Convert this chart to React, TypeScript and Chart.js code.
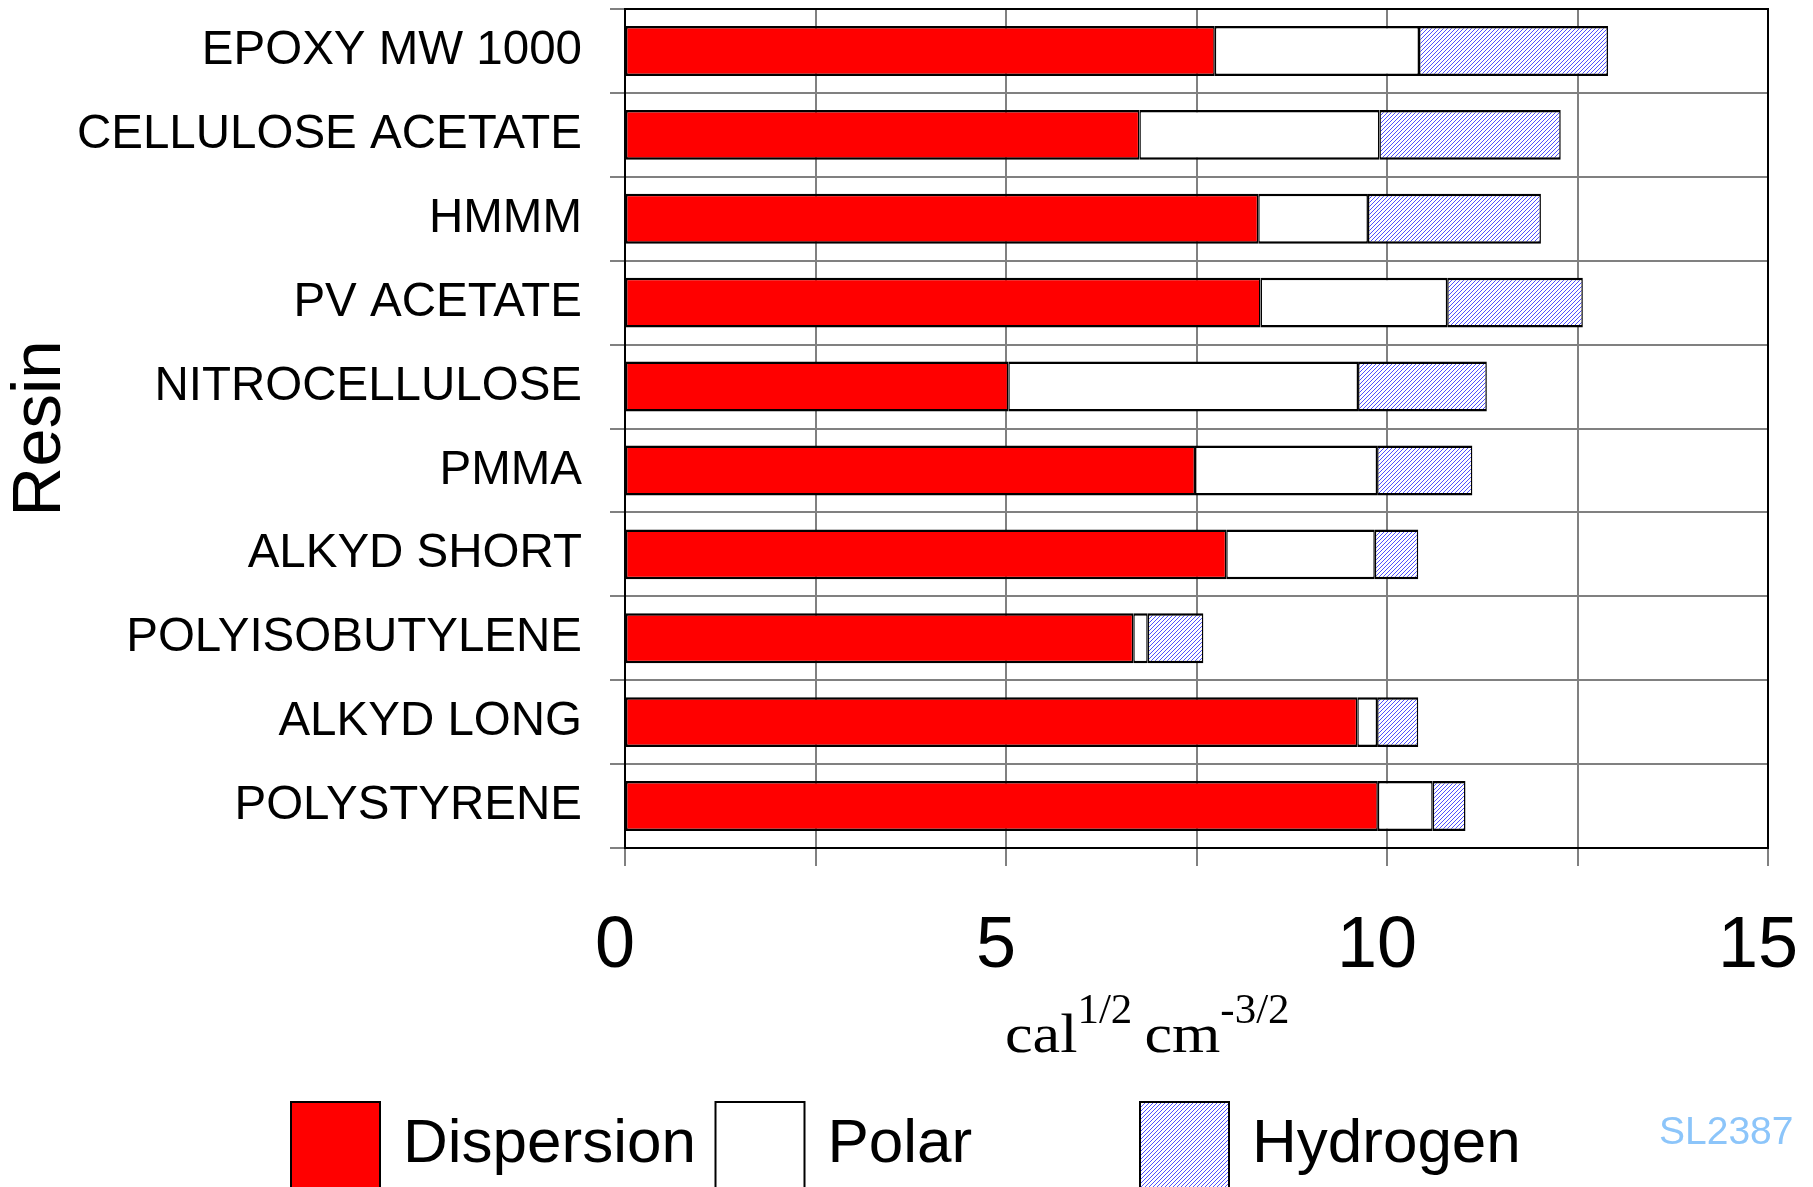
import React, { useEffect, useRef } from 'react';
import { Chart, registerables } from 'chart.js';

Chart.register(...registerables);

const resins = [
  'EPOXY MW 1000',
  'CELLULOSE ACETATE',
  'HMMM',
  'PV ACETATE',
  'NITROCELLULOSE',
  'PMMA',
  'ALKYD SHORT',
  'POLYISOBUTYLENE',
  'ALKYD LONG',
  'POLYSTYRENE',
];
const dispersion = [7.74, 6.75, 8.31, 8.34, 5.03, 7.48, 7.89, 6.67, 9.61, 9.88];
const polar = [2.68, 3.15, 1.44, 2.45, 4.59, 2.39, 1.95, 0.19, 0.26, 0.72];
const hydrogen = [2.48, 2.38, 2.27, 1.78, 1.69, 1.25, 0.57, 0.73, 0.54, 0.43];
const seriesNames = ['Dispersion', 'Polar', 'Hydrogen'];
const xTickLabels = [0, 5, 10, 15];
const yAxisTitle = 'Resin';
const unitParts: [string, boolean][] = [
  ['cal', false],
  ['1/2', true],
  [' ', false],
  ['cm', false],
  ['-3/2', true],
];
const watermark = 'SL2387';

const SANS = "'Liberation Sans', Arial, sans-serif";
const SERIF = "'Liberation Serif', 'Times New Roman', serif";
const W = 1813;
const H = 1187;

export default function App() {
  const ref = useRef<HTMLCanvasElement | null>(null);

  useEffect(() => {
    const canvas = ref.current;
    if (!canvas) return;
    const ctx = canvas.getContext('2d')!;

    const pc = document.createElement('canvas');
    pc.width = 4;
    pc.height = 4;
    const pctx = pc.getContext('2d')!;
    pctx.fillStyle = '#ffffff';
    pctx.fillRect(0, 0, 4, 4);
    pctx.fillStyle = '#5050ff';
    for (let i = 0; i < 4; i++) pctx.fillRect(3 - i, i, 1, 1);
    const hatch = ctx.createPattern(pc, 'repeat')!;

    const fills = ['#ff0000', '#ffffff', hatch];
    const values = [dispersion, polar, hydrogen];

    const extras = {
      id: 'extras',
      afterDatasetsDraw(chart: any) {
        const c = chart.ctx;
        const a = chart.chartArea;
        c.save();
        c.strokeStyle = '#000';
        c.lineWidth = 2;
        c.strokeRect(a.left, a.top, a.right - a.left, a.bottom - a.top);
        c.restore();
      },
      afterDraw(chart: any) {
        const c = chart.ctx;
        c.save();
        // unit title
        let x = 1005;
        const base = 1052;
        const supBase = 1023;
        c.fillStyle = '#000';
        c.textBaseline = 'alphabetic';
        c.textAlign = 'left';
        for (const [t, sup] of unitParts) {
          if (sup) {
            c.font = `43px ${SERIF}`;
            c.fillText(t, x, supBase);
            x += c.measureText(t).width;
          } else {
            c.font = `54px ${SERIF}`;
            const w = c.measureText(t).width;
            c.save();
            c.translate(x, base);
            c.scale(1.15, 1);
            c.fillText(t, 0, 0);
            c.restore();
            x += w * (t === ' ' ? 0.9 : 1.15);
          }
        }
        // legend
        chart.data.datasets.forEach((ds: any, i: number) => {
          const bx = 290 + i * 424.5;
          const by = 1101;
          const s = 91;
          c.fillStyle = ds.backgroundColor;
          c.fillRect(bx, by, s, s);
          c.strokeStyle = '#000';
          c.lineWidth = 2;
          c.strokeRect(bx + 1, by + 1, s - 2, s - 2);
          c.fillStyle = '#000';
          c.font = `62px ${SANS}`;
          c.textBaseline = 'alphabetic';
          c.fillText(ds.label, bx + 113, 1162);
        });
        // watermark
        c.fillStyle = '#8cc5fa';
        c.font = `39px ${SANS}`;
        c.fillText(watermark, 1659, 1144);
        c.restore();
      },
    };

    const chart = new Chart(canvas, {
      type: 'bar',
      data: {
        labels: resins,
        datasets: seriesNames.map((name, i) => ({
          label: name,
          data: values[i],
          backgroundColor: fills[i] as any,
          borderColor: '#000',
          borderWidth: { top: 2.5, bottom: 2.5, left: 1.5, right: 1.5 },
          borderSkipped: false,
          categoryPercentage: 1,
          barPercentage: 0.595,
        })),
      },
      options: {
        indexAxis: 'y',
        responsive: false,
        animation: false,
        devicePixelRatio: 1,
        layout: { padding: { left: 0, top: 9, right: 45, bottom: 0 } },
        plugins: {
          legend: { display: false },
          tooltip: { enabled: false },
          title: { display: false },
        },
        scales: {
          x: {
            stacked: true,
            min: 0,
            max: 15,
            grid: {
              color: '#808080',
              lineWidth: 2,
              tickLength: 18,
              tickColor: '#808080',
              tickWidth: 2,
            },
            border: { display: true, color: '#000', width: 2 },
            ticks: {
              stepSize: 2.5,
              autoSkip: false,
              maxRotation: 0,
              minRotation: 0,
              labelOffset: -10,
              padding: 38,
              color: '#000',
              font: { family: SANS, size: 72 },
              callback: (v: any) => (xTickLabels.includes(Number(v)) ? String(v) : ''),
            },
            afterFit: (s: any) => {
              s.height = H - 848;
              s.paddingLeft = 0;
              s.paddingRight = 0;
            },
          },
          y: {
            stacked: true,
            grid: {
              color: '#808080',
              lineWidth: 2,
              tickLength: 15,
              tickColor: '#808080',
              tickWidth: 2,
              offset: true,
            },
            border: { display: true, color: '#000', width: 2 },
            ticks: {
              color: '#000',
              padding: 28,
              font: { family: SANS, size: 47.5 },
            },
            title: {
              display: true,
              text: yAxisTitle,
              color: '#000',
              font: { family: SANS, size: 69 },
              padding: 0,
            },
            afterFit: (s: any) => {
              s.width = 625;
              s.paddingTop = 0;
              s.paddingBottom = 0;
            },
          },
        },
      },
      plugins: [extras],
    });

    return () => chart.destroy();
  }, []);

  return (
    <div style={{ position: 'fixed', left: 0, top: 0, width: W, height: H, background: '#fff' }}>
      <canvas ref={ref} width={W} height={H} style={{ width: W, height: H, display: 'block' }} />
    </div>
  );
}
